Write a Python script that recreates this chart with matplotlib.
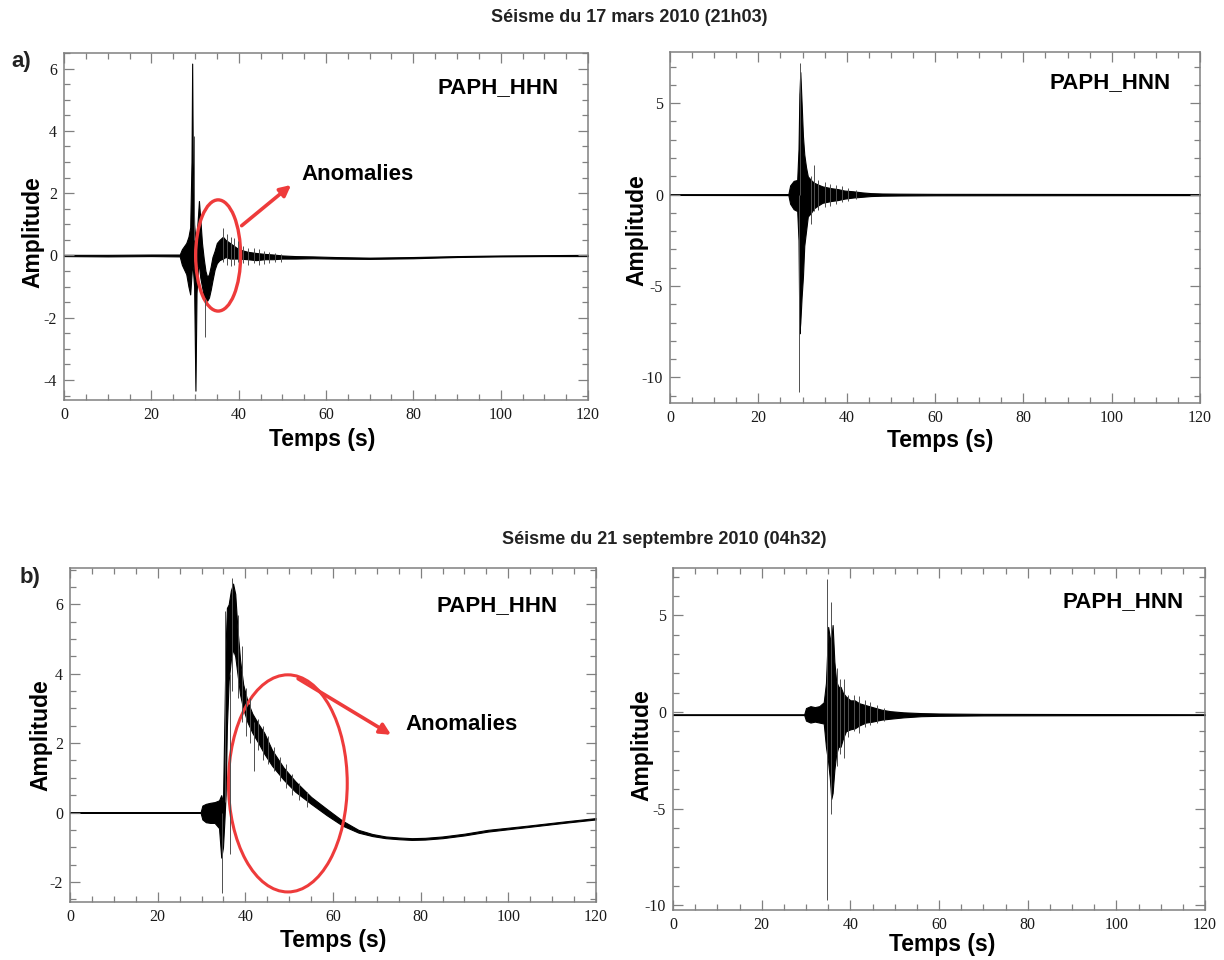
import numpy as np
import matplotlib.pyplot as plt
from matplotlib.patches import Ellipse
from matplotlib.ticker import MultipleLocator

plt.rcParams['font.family'] = ['Liberation Sans', 'DejaVu Sans']
plt.rcParams['axes.unicode_minus'] = False

W, H = 1224, 960
RED = '#ee3b3b'
GRID = '#808080'

titre_a = "Séisme du 17 mars 2010 (21h03)"
titre_b = "Séisme du 21 septembre 2010 (04h32)"

# enveloppes (coeur noir) : temps (s), min, max
a_hhn_t = [0, 10, 20, 26.5, 27.0, 27.5, 28.0, 28.5, 28.9, 29.2, 29.35, 29.5, 29.8, 30.1, 30.35,
           30.7, 30.9, 31.2, 31.6, 32.0, 32.4, 32.8, 33.2, 33.6, 34.0, 34.5, 35.0, 35.6, 36.4,
           37.0, 38.0, 39.0, 40.0, 42.0, 44.0, 46.0, 48.0, 50.0, 53.0, 57.0, 62.0, 70.0,
           80.0, 90.0, 100.0, 110.0, 120.0]
a_hhn_lo = [-0.02, -0.03, -0.02, -0.03, -0.3, -0.45, -0.6, -1.0, -1.25, -0.6, -0.3, -0.4, -1.0,
            -4.34, -1.2, -0.4, -0.3, -0.7, -1.0, -1.3, -1.45, -1.45, -1.35, -1.1, -0.8, -0.45,
            -0.25, -0.15, -0.1, -0.05, -0.1, -0.1, -0.1, -0.12, -0.15, -0.12, -0.12, -0.1,
            -0.1, -0.09, -0.1, -0.11, -0.09, -0.05, -0.03, -0.02, -0.02]
a_hhn_hi = [0.02, 0.02, 0.03, 0.03, 0.2, 0.3, 0.4, 0.6, 0.9, 3.0, 6.16, 3.0, 1.0, 0.5, 0.6, 1.3,
            1.75, 1.2, 0.4, -0.1, -0.5, -0.7, -0.6, -0.35, -0.05, 0.15, 0.4, 0.5, 0.6, 0.5, 0.4,
            0.3, 0.2, 0.12, 0.08, 0.05, 0.03, 0.0, -0.02, -0.03, -0.05, -0.07, -0.05, -0.02,
            0.0, 0.01, 0.02]
# pointes fines (gris)
a_hhn_spk_t = [29.7, 32.4, 36.4, 37.3, 38.2, 39.0, 39.8, 41.0, 42.2, 43.4, 44.6, 45.8, 47.0,
               48.4, 49.8]
a_hhn_spk_lo = [0.5, -2.63, -0.2, -0.3, -0.35, -0.3, -0.2, -0.25, -0.3, -0.25, -0.3, -0.28,
                -0.25, -0.22, -0.2]
a_hhn_spk_hi = [3.85, -1.4, 0.88, 0.7, 0.6, 0.55, 0.45, 0.3, 0.25, 0.25, 0.2, 0.15, 0.1,
                0.08, 0.05]

a_hnn_t = [0, 26.8, 27.2, 28.0, 28.8, 29.1, 29.3, 29.5, 29.8, 30.1, 30.4, 30.8, 31.2, 31.9, 32.6,
           33.5, 34.5, 35.5, 36.5, 38.0, 39.5, 41.5, 43.5, 45.5, 48.0, 52.0, 60.0, 120.0]
a_hnn_lo = [-0.02, -0.03, -0.5, -0.8, -0.9, -2.5, -7.6, -7.0, -5.6, -4.5, -2.8, -2.0, -1.2, -1.0,
            -0.75, -0.6, -0.45, -0.4, -0.35, -0.3, -0.22, -0.16, -0.12, -0.08, -0.06, -0.05,
            -0.04, -0.03]
a_hnn_hi = [0.02, 0.03, 0.5, 0.75, 0.8, 2.5, 5.5, 6.7, 5.0, 3.2, 2.2, 1.5, 1.0, 0.8, 0.65, 0.55,
            0.45, 0.4, 0.35, 0.3, 0.22, 0.18, 0.12, 0.08, 0.06, 0.05, 0.04, 0.03]
a_hnn_spk_t = [29.3, 29.5, 31.9, 32.7, 33.5, 35.0, 36.3, 37.6, 39.0, 40.4, 42.0]
a_hnn_spk_lo = [-10.8, 0.0, -1.6, -0.9, -0.85, -0.7, -0.6, -0.5, -0.4, -0.35, -0.25]
a_hnn_spk_hi = [0.0, 7.2, 1.0, 1.6, 0.8, 0.7, 0.6, 0.5, 0.45, 0.35, 0.25]

b_hhn_t = [0, 29.8, 30.2, 31.0, 32.0, 33.0, 34.0, 34.5, 34.9, 35.2, 35.5, 35.8, 36.2, 36.7, 37.2,
           37.7, 38.2, 38.8, 39.5, 40.5, 41.6, 43.0, 44.3, 46.1, 48.7, 51.4, 55.0, 58.6, 62.2,
           65.8, 69.0, 72.0, 75.0, 78.0, 81.0, 85.0, 90.0, 95.3, 104.3, 113.3, 120.0]
b_hhn_lo = [-0.01, -0.01, -0.2, -0.28, -0.3, -0.3, -0.45, -1.3, -1.0, -0.3, 0.5, 2.5, 3.8, 4.4,
            4.7, 4.5, 4.0, 3.4, 3.0, 2.6, 2.3, 2.0, 1.7, 1.35, 0.95, 0.6, 0.25, -0.08, -0.38,
            -0.58, -0.68, -0.74, -0.77, -0.79, -0.78, -0.74, -0.66, -0.55, -0.42, -0.29, -0.2]
b_hhn_hi = [0.01, 0.01, 0.2, 0.25, 0.28, 0.3, 0.35, 0.5, 0.3, 2.5, 4.8, 5.9, 6.0, 6.4, 6.6, 6.3,
            5.3, 4.4, 3.7, 3.2, 2.85, 2.55, 2.3, 1.8, 1.3, 0.9, 0.45, 0.1, -0.24, -0.5, -0.62,
            -0.69, -0.72, -0.74, -0.73, -0.69, -0.61, -0.5, -0.38, -0.25, -0.16]
b_hhn_spk_t = [34.6, 35.3, 36.6, 37.0, 38.3, 39.2, 40.2, 41.1, 42.0, 43.0, 44.0, 45.2, 46.5,
               47.8, 49.2, 50.6, 52.3, 54.0]
b_hhn_spk_lo = [-2.32, 0.3, -1.2, 3.5, 3.3, 2.6, 2.2, 2.0, 1.2, 1.8, 1.5, 1.4, 1.2, 0.9, 0.7,
                0.5, 0.35, 0.15]
b_hhn_spk_hi = [0.0, 5.8, 4.0, 6.75, 5.7, 4.8, 3.6, 3.3, 2.6, 2.7, 2.5, 2.2, 1.9, 1.6, 1.4,
                1.1, 0.85, 0.6]

b_hnn_t = [0, 29.6, 30.0, 31.0, 32.0, 33.0, 34.0, 34.5, 35.0, 35.4, 35.7, 36.0, 36.4, 36.8, 37.3,
           37.8, 38.3, 39.0, 40.0, 41.0, 42.0, 43.5, 45.0, 47.0, 49.0, 52.0, 56.0, 60.0, 70.0,
           120.0]
b_hnn_lo = [-0.16, -0.16, -0.45, -0.55, -0.5, -0.55, -0.6, -1.8, -2.6, -3.5, -4.5, -4.2, -3.0,
            -2.2, -1.8, -1.8, -1.4, -1.0, -0.9, -0.85, -0.7, -0.55, -0.5, -0.4, -0.35, -0.28,
            -0.22, -0.2, -0.18, -0.16]
b_hnn_hi = [-0.12, -0.12, 0.2, 0.3, 0.25, 0.3, 0.5, 1.5, 4.4, 3.8, 3.7, 4.5, 2.6, 1.6, 1.3, 1.3,
            1.0, 0.8, 0.6, 0.6, 0.45, 0.35, 0.25, 0.12, 0.04, -0.02, -0.06, -0.08, -0.1, -0.12]
b_hnn_spk_t = [34.8, 35.7, 36.9, 37.6, 38.5, 39.5, 40.8, 42.0, 43.2, 44.5, 46.0, 47.5]
b_hnn_spk_lo = [-9.74, -5.3, -2.8, -2.2, -2.4, -1.3, -1.0, -1.1, -0.8, -0.7, -0.55, -0.45]
b_hnn_spk_hi = [6.9, 5.7, 2.3, 1.7, 1.7, 0.9, 0.9, 0.8, 0.6, 0.5, 0.35, 0.2]


def px_axes(fig, l, t, r, b):
    return fig.add_axes([l / W, 1 - b / H, (r - l) / W, (b - t) / H])


def ftext(fig, x, y, s, **kw):
    fig.text(x / W, 1 - y / H, s, ha='center', va='center', **kw)


def trace(ax, t, lo, hi, st, slo, shi, ylim, ymaj, ymin):
    ax.fill_between(t, lo, hi, color='black', lw=0.8)
    ax.vlines(st, slo, shi, color='#505050', lw=0.7)
    ax.set_xlim(0, 120)
    ax.set_ylim(*ylim)
    ax.xaxis.set_major_locator(MultipleLocator(20))
    ax.xaxis.set_minor_locator(MultipleLocator(5))
    ax.yaxis.set_major_locator(MultipleLocator(ymaj))
    ax.yaxis.set_minor_locator(MultipleLocator(ymin))
    ax.tick_params(which='both', direction='in', top=True, right=True, color=GRID,
                   labelsize=11.5, labelfontfamily='Liberation Serif', labelcolor='#1a1a1a',
                   pad=5)
    ax.tick_params(which='major', length=7, width=0.9)
    ax.tick_params(which='minor', length=4, width=0.9)
    for s in ax.spines.values():
        s.set_color(GRID)
        s.set_linewidth(1.1)


fig = plt.figure(figsize=(W / 100, H / 100), dpi=100)

ax1 = px_axes(fig, 64, 53, 588, 400)
trace(ax1, a_hhn_t, a_hhn_lo, a_hhn_hi, a_hhn_spk_t, a_hhn_spk_lo, a_hhn_spk_hi,
      (-4.64, 6.5), 2, 0.5)
ax2 = px_axes(fig, 670, 52, 1200, 403)
trace(ax2, a_hnn_t, a_hnn_lo, a_hnn_hi, a_hnn_spk_t, a_hnn_spk_lo, a_hnn_spk_hi,
      (-11.4, 7.8), 5, 1)
ax3 = px_axes(fig, 70, 568, 596, 902)
trace(ax3, b_hhn_t, b_hhn_lo, b_hhn_hi, b_hhn_spk_t, b_hhn_spk_lo, b_hhn_spk_hi,
      (-2.58, 7.05), 2, 0.5)
ax4 = px_axes(fig, 673, 568, 1205, 910)
trace(ax4, b_hnn_t, b_hnn_lo, b_hnn_hi, b_hnn_spk_t, b_hnn_spk_lo, b_hnn_spk_hi,
      (-10.25, 7.45), 5, 1)

# annotations "Anomalies"
ax1.add_patch(Ellipse((35.3, 0.0), 10.3, 3.57, fill=False, ec=RED, lw=2.4))
ax1.annotate('', xy=(52.5, 2.32), xytext=(40.2, 0.9),
             arrowprops=dict(arrowstyle='-|>', color=RED, lw=2.6, mutation_scale=16))
ax1.text(54.4, 2.6, 'Anomalies', fontsize=16, fontweight='bold', va='center')

ax3.add_patch(Ellipse((49.7, 0.84), 27.1, 6.26, fill=False, ec=RED, lw=2.2))
ax3.annotate('', xy=(73.8, 2.2), xytext=(51.5, 3.9),
             arrowprops=dict(arrowstyle='-|>', color=RED, lw=2.6, mutation_scale=16))
ax3.text(76.5, 2.55, 'Anomalies', fontsize=16, fontweight='bold', va='center')

# textes de la figure
ftext(fig, 629, 18, titre_a, fontsize=13, fontweight='bold', color='#222222')
ftext(fig, 664, 540, titre_b, fontsize=13, fontweight='bold', color='#222222')
ftext(fig, 21, 62, 'a)', fontsize=16, fontweight='bold', color='#222222')
ftext(fig, 30, 578, 'b)', fontsize=16, fontweight='bold', color='#222222')

for x, y in [(33, 232), (637, 230), (41, 735), (642, 745)]:
    ftext(fig, x, y, 'Amplitude', fontsize=16.5, fontweight='bold', rotation=90)
for x, y in [(322, 440), (940, 441), (333, 941), (942, 945)]:
    ftext(fig, x, y, 'Temps (s)', fontsize=16.5, fontweight='bold')
for x, y, s in [(498, 88, 'PAPH_HHN'), (1110, 83, 'PAPH_HNN'),
                (497, 606, 'PAPH_HHN'), (1123, 602, 'PAPH_HNN')]:
    ftext(fig, x, y, s, fontsize=16, fontweight='bold')

fig.savefig('out.png', dpi=100)
